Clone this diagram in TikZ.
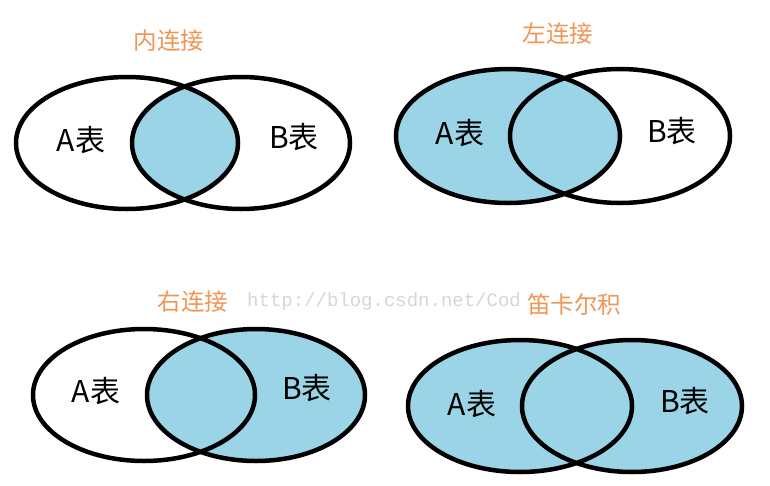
\documentclass[tikz,border=0pt]{standalone}
\usepackage{fontspec}
\newfontfamily\cjk{Noto Sans CJK SC}
\setmonofont{Liberation Mono}
\definecolor{vennblue}{RGB}{154,212,230}
\definecolor{titleorange}{RGB}{240,150,85}
\definecolor{wmgray}{RGB}{214,214,214}
\tikzset{
  outline/.style={draw=black, line width=4.5pt},
  shade blue/.style={fill=vennblue},
  tablelabel/.style={font=\cjk\fontsize{30}{30}\selectfont, text=black, inner sep=0pt},
  titlelabel/.style={font=\cjk\fontsize{23.5}{23.5}\selectfont, text=titleorange, inner sep=0pt},
  watermark/.style={font=\ttfamily\fontsize{19}{19}\selectfont, text=wmgray, inner sep=0pt, anchor=west},
}
\begin{document}
\begin{tikzpicture}[x=1pt, y=-1pt]
\useasboundingbox (0,0) rectangle (770,485);
\fill[white] (0,0) rectangle (770,485);

% ---------- inner join ----------
\begin{scope}
  \clip (127,143) ellipse [x radius=111, y radius=66];
  \fill[shade blue] (241,143) ellipse [x radius=109, y radius=66];
\end{scope}
\draw[outline] (127,143) ellipse [x radius=111, y radius=66];
\draw[outline] (241,143) ellipse [x radius=109, y radius=66];
\node[titlelabel] (t1) at (169,41) {内连接};
\node[tablelabel] (a1) at (81,140) {A表};
\node[tablelabel] (b1) at (294,137) {B表};

% ---------- left join ----------
\fill[shade blue] (508,136) ellipse [x radius=112, y radius=67];
\draw[outline] (508,136) ellipse [x radius=112, y radius=67];
\draw[outline] (620,136) ellipse [x radius=110, y radius=67];
\node[titlelabel] (t2) at (558,34) {左连接};
\node[tablelabel] (a2) at (460,133) {A表};
\node[tablelabel] (b2) at (672,131) {B表};

% ---------- watermark ----------
\node[watermark] (wm) at (247,302) {http://blog.csdn.net/Cod};

% ---------- right join ----------
\fill[shade blue] (256,395) ellipse [x radius=109, y radius=66];
\draw[outline] (144,395) ellipse [x radius=111, y radius=66];
\draw[outline] (256,395) ellipse [x radius=109, y radius=66];
\node[titlelabel, fill=white, inner sep=1pt] (t3) at (193,302) {右连接};
\node[tablelabel] (a3) at (96,391) {A表};
\node[tablelabel] (b3) at (307,388) {B表};

% ---------- cross join ----------
\fill[shade blue] (520,406) ellipse [x radius=112, y radius=66];
\fill[shade blue] (632,406) ellipse [x radius=110, y radius=66];
\draw[outline] (520,406) ellipse [x radius=112, y radius=66];
\draw[outline] (632,406) ellipse [x radius=110, y radius=66];
\node[titlelabel] (t4) at (574,305) {笛卡尔积};
\node[tablelabel] (a4) at (472,404) {A表};
\node[tablelabel] (b4) at (685,401) {B表};
\end{tikzpicture}
\end{document}
